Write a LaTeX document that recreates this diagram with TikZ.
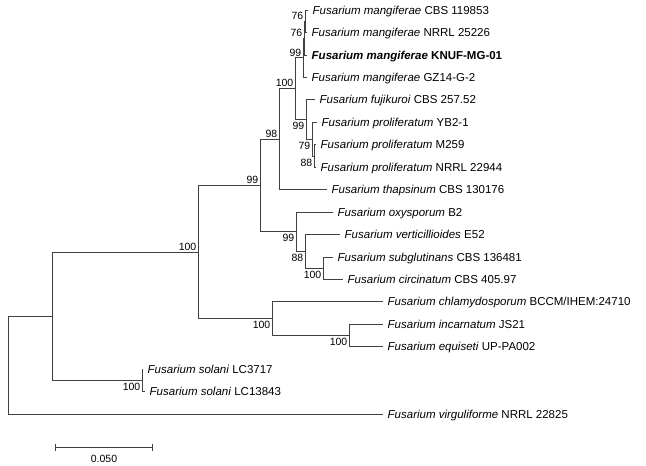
\documentclass[tikz,border=0pt]{standalone}
\usepackage{fontspec}
\setmainfont{Liberation Sans}
\usetikzlibrary{arrows.meta}

\begin{document}
\begin{tikzpicture}[x=1pt,y=-1pt,
  branch/.style={draw=black!75,line width=0.8pt},
  taxon/.style={anchor=west,inner xsep=4.5pt,inner ysep=0pt,text height=8.2pt,text depth=0pt,font=\fontsize{11.5}{13}\selectfont},
  bootup/.style={anchor=south east,inner sep=0pt,xshift=-1.5pt,yshift=1.5pt,text height=7.6pt,text depth=0pt,font=\fontsize{10.5}{12}\selectfont},
  bootdown/.style={anchor=north east,inner sep=0pt,xshift=-1.5pt,yshift=-2.5pt,text height=7.6pt,text depth=0pt,font=\fontsize{10.5}{12}\selectfont}]
\useasboundingbox (0,0) rectangle (646,466);

% taxa
\node[taxon] (mg1) at (308,10) {\textit{Fusarium mangiferae} CBS 119853};
\node[taxon] (mg2) at (307,32.4) {\textit{Fusarium mangiferae} NRRL 25226};
\node[taxon] (mg3) at (307,54.9) {\textbf{\textit{Fusarium mangiferae} KNUF-MG-01}};
\node[taxon] (mg4) at (307,77.3) {\textit{Fusarium mangiferae} GZ14-G-2};
\node[taxon] (fuji) at (315,99.8) {\textit{Fusarium fujikuroi} CBS 257.52};
\node[taxon] (pro1) at (317,122.2) {\textit{Fusarium proliferatum} YB2-1};
\node[taxon] (pro2) at (316,144.7) {\textit{Fusarium proliferatum} M259};
\node[taxon] (pro3) at (316,167.1) {\textit{Fusarium proliferatum} NRRL 22944};
\node[taxon] (thap) at (327,189.6) {\textit{Fusarium thapsinum} CBS 130176};
\node[taxon] (oxys) at (333,212) {\textit{Fusarium oxysporum} B2};
\node[taxon] (vert) at (340,234.4) {\textit{Fusarium verticillioides} E52};
\node[taxon] (subg) at (333,256.9) {\textit{Fusarium subglutinans} CBS 136481};
\node[taxon] (circ) at (343,279.3) {\textit{Fusarium circinatum} CBS 405.97};
\node[taxon] (chla) at (383,301.8) {\textit{Fusarium chlamydosporum} BCCM/IHEM:24710};
\node[taxon] (inca) at (383,324.2) {\textit{Fusarium incarnatum} JS21};
\node[taxon] (equi) at (383,346.7) {\textit{Fusarium equiseti} UP-PA002};
\node[taxon] (sol1) at (143,369.1) {\textit{Fusarium solani} LC3717};
\node[taxon] (sol2) at (145,391.6) {\textit{Fusarium solani} LC13843};
\node[taxon] (virg) at (383,414) {\textit{Fusarium virguliforme} NRRL 22825};

% internal nodes
\coordinate (n76a) at (305,21.2);
\coordinate (n76b) at (304,38);
\coordinate (n99a) at (303,57.7);
\coordinate (n88a) at (314,155.9);
\coordinate (n79) at (312,139);
\coordinate (n99b) at (306,119.4);
\coordinate (n100a) at (295,88.6);
\coordinate (n98) at (279,139);
\coordinate (n100b) at (323,268.1);
\coordinate (n88b) at (305,251.3);
\coordinate (n99c) at (296,231.6);
\coordinate (n99d) at (260,185.3);
\coordinate (n100c) at (349,335.5);
\coordinate (n100d) at (272,318.6);
\coordinate (n100e) at (198,252);
\coordinate (n100f) at (142,380.3);
\coordinate (n0) at (52,316);
\coordinate (root) at (8,365);

% branches
\draw[branch] (root) |- (n0) (root) |- (virg.west);
\draw[branch] (n0) |- (n100e) (n0) |- (n100f);
\draw[branch] (n100f) |- (sol1.west) (n100f) |- (sol2.west);
\draw[branch] (n100e) |- (n99d) (n100e) |- (n100d);
\draw[branch] (n100d) |- (chla.west) (n100d) |- (n100c);
\draw[branch] (n100c) |- (inca.west) (n100c) |- (equi.west);
\draw[branch] (n99d) |- (n98) (n99d) |- (n99c);
\draw[branch] (n99c) |- (oxys.west) (n99c) |- (n88b);
\draw[branch] (n88b) |- (vert.west) (n88b) |- (n100b);
\draw[branch] (n100b) |- (subg.west) (n100b) |- (circ.west);
\draw[branch] (n98) |- (n100a) (n98) |- (thap.west);
\draw[branch] (n100a) |- (n99a) (n100a) |- (n99b);
\draw[branch] (n99a) |- (n76b) (n99a) |- (mg4.west);
\draw[branch] (n76b) |- (n76a) (n76b) |- (mg3.west);
\draw[branch] (n76a) |- (mg1.west) (n76a) |- (mg2.west);
\draw[branch] (n99b) |- (fuji.west) (n99b) |- (n79);
\draw[branch] (n79) |- (pro1.west) (n79) |- (n88a);
\draw[branch] (n88a) |- (pro2.west) (n88a) |- (pro3.west);

% bootstrap values
\node[bootup] (b76a) at (n76a) {76};
\node[bootup] (b76b) at (n76b) {76};
\node[bootup] (b99a) at (n99a) {99};
\node[bootup] (b100a) at (n100a) {100};
\node[bootup] (b98) at (n98) {98};
\node[bootup] (b99d) at (n99d) {99};
\node[bootup] (b100e) at (n100e) {100};
\node[bootdown] (b99b) at (n99b) {99};
\node[bootdown] (b79) at (n79) {79};
\node[bootdown] (b88a) at (n88a) {88};
\node[bootdown] (b99c) at (n99c) {99};
\node[bootdown] (b88b) at (n88b) {88};
\node[bootdown] (b100b) at (n100b) {100};
\node[bootdown] (b100d) at (n100d) {100};
\node[bootdown] (b100c) at (n100c) {100};
\node[bootdown] (b100f) at (n100f) {100};

% scale bar
\coordinate (bar-l) at (55,447);
\coordinate (bar-r) at (153,447);
\draw[branch,{Bar[width=7pt]}-{Bar[width=7pt]}] (bar-l) -- (bar-r)
  node[midway,below=7pt,inner sep=0pt,text height=7.6pt,text depth=0pt,font=\fontsize{10.5}{12}\selectfont] (bar-txt) {0.050};
\end{tikzpicture}
\end{document}
